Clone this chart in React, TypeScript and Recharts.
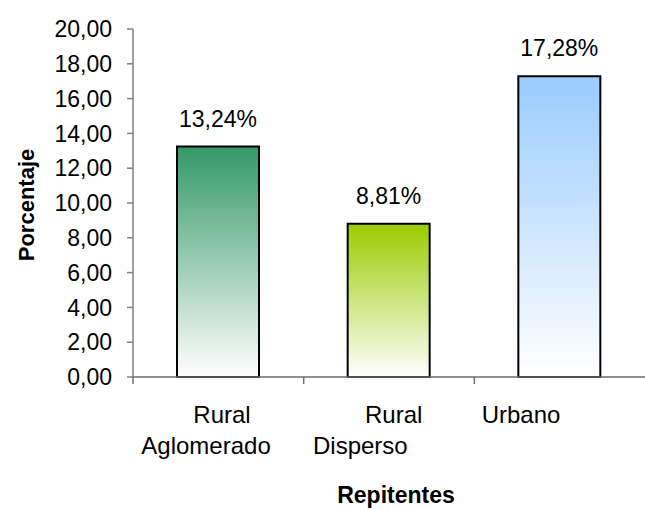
import React from 'react';
import { BarChart, Bar, XAxis, YAxis, Cell, LabelList, Label } from 'recharts';

const categories = ['Rural Aglomerado', 'Rural Disperso', 'Urbano'];
const categoryLines = [['Rural', 'Aglomerado'], ['Rural', 'Disperso'], ['Urbano']];
const values = [13.24, 8.81, 17.28];
const yTicks = [0, 2, 4, 6, 8, 10, 12, 14, 16, 18, 20];
const barColors = ['#339966', '#99CC00', '#99CCFF'];
const yTitle = 'Porcentaje';
const xTitle = 'Repitentes';

const data = categories.map((c, i) => ({ name: c, value: values[i], idx: i }));

const FONT = '"Liberation Sans", Arial, sans-serif';
const CHART_W = 645;
const CHART_H = 510;
const Y_AXIS_W = 133;
const PLOT_W = CHART_W - Y_AXIS_W;
const BAND = PLOT_W / categories.length;
// horizontal offsets of each label line (start anchor), relative to the band centre
const LINE_DX = [[-25, -77], [-24, -76], [-78]];
const LINE_DY = [46, 77];

const fmt = (v: number) => v.toFixed(2).replace('.', ',');

const XTick = (props: any) => {
  const { x, y, index } = props;
  const lines = categoryLines[index] || [];
  return (
    <g>
      <line x1={x - BAND / 2} x2={x - BAND / 2} y1={y} y2={y + 7} stroke="#707070" strokeWidth={1.5} />
      {lines.map((ln, i) => (
        <text
          key={i}
          x={x + LINE_DX[index][i]}
          y={y + LINE_DY[i]}
          textAnchor="start"
          fontFamily={FONT}
          fontSize={24}
          fill="#000"
        >
          {ln}
        </text>
      ))}
    </g>
  );
};

export default function App() {
  return (
    <div style={{ position: 'absolute', left: 0, top: 0, background: '#fff' }}>
      <BarChart
        width={CHART_W}
        height={CHART_H}
        data={data}
        margin={{ top: 29, right: 0, bottom: 0, left: 0 }}
        barCategoryGap={0}
      >
        <defs>
          {barColors.map((c, i) => (
            <linearGradient key={i} id={`grad${i}`} x1="0" y1="0" x2="0" y2="1">
              <stop offset="0%" stopColor={c} />
              <stop offset="100%" stopColor="#ffffff" />
            </linearGradient>
          ))}
        </defs>
        <XAxis
          dataKey="name"
          type="category"
          height={CHART_H - 377}
          axisLine={{ stroke: '#6b6b6b', strokeWidth: 1.5 }}
          tickLine={false}
          tickSize={0}
          tickMargin={0}
          interval={0}
          tick={<XTick />}
        >
          <Label
            content={(p: any) => {
              const vb = p.viewBox;
              return (
                <text
                  x={vb.x + vb.width / 2 + 7}
                  y={vb.y + 126}
                  textAnchor="middle"
                  fontFamily={FONT}
                  fontWeight="bold"
                  fontSize={23}
                  fill="#000"
                >
                  {xTitle}
                </text>
              );
            }}
          />
        </XAxis>
        <YAxis
          width={Y_AXIS_W}
          domain={[0, 20]}
          ticks={yTicks}
          interval={0}
          tickFormatter={fmt}
          axisLine={{ stroke: '#808080', strokeWidth: 1.5 }}
          tickLine={{ stroke: '#808080', strokeWidth: 1.5 }}
          tickSize={6}
          tickMargin={15}
          tick={{ fill: '#000', fontSize: 23, fontFamily: FONT }}
        >
          <Label
            content={(p: any) => {
              const vb = p.viewBox;
              const cx = vb.x + 34;
              const cy = vb.y + vb.height / 2 + 2;
              return (
                <text
                  x={cx}
                  y={cy}
                  transform={`rotate(-90, ${cx}, ${cy})`}
                  textAnchor="middle"
                  fontFamily={FONT}
                  fontWeight="bold"
                  fontSize={22}
                  fill="#000"
                >
                  {yTitle}
                </text>
              );
            }}
          />
        </YAxis>
        <Bar dataKey="value" barSize={82} stroke="#000" strokeWidth={2} isAnimationActive={false}>
          {data.map((d, i) => (
            <Cell key={i} fill={`url(#grad${i})`} />
          ))}
          <LabelList
            dataKey="value"
            position="top"
            offset={20}
            formatter={(v: any) => `${fmt(Number(v))}%`}
            fill="#000"
            fontSize={23}
            fontFamily={FONT}
          />
        </Bar>
      </BarChart>
    </div>
  );
}
